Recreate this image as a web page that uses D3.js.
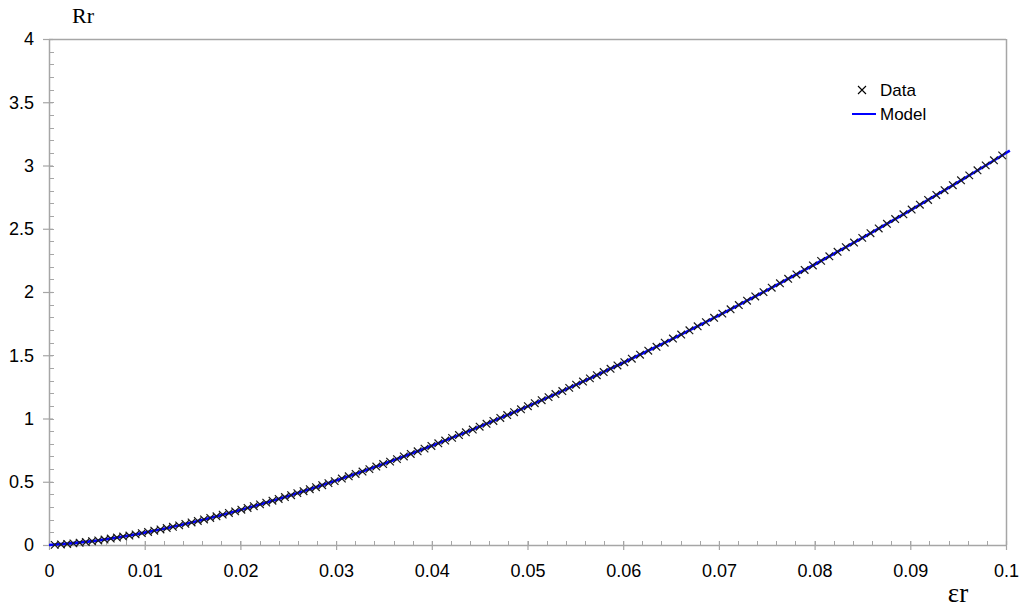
<!DOCTYPE html>
<html><head><meta charset="utf-8">
<script src="https://cdn.jsdelivr.net/npm/d3@7"></script>
<style>body{margin:0;background:#fff}svg{display:block}</style>
</head><body><svg id="c" width="1024" height="610"></svg>
<script>
const dataX = [
0.00060,0.00125,0.00190,0.00255,0.00320,0.00385,0.00450,0.00515,0.00580,0.00645,
0.00710,0.00775,0.00840,0.00905,0.00970,0.01035,0.01100,0.01165,0.01230,0.01295,
0.01360,0.01425,0.01490,0.01555,0.01620,0.01685,0.01750,0.01815,0.01880,0.01945,
0.02010,0.02075,0.02140,0.02205,0.02270,0.02335,0.02400,0.02465,0.02530,0.02595,
0.02660,0.02725,0.02790,0.02855,0.02920,0.02985,
0.03060,0.03132,0.03204,0.03276,0.03348,0.03420,0.03492,0.03564,0.03636,0.03708,
0.03780,0.03852,0.03924,0.03996,0.04068,0.04140,0.04212,0.04284,0.04356,0.04428,
0.04500,0.04572,0.04644,0.04716,0.04788,0.04860,0.04932,0.05004,0.05076,0.05148,
0.05220,0.05292,0.05364,0.05436,0.05508,0.05580,0.05652,0.05724,0.05796,0.05868,
0.05940,0.06012,
0.06090,0.06176,0.06262,0.06348,0.06434,0.06520,0.06606,0.06692,0.06778,0.06864,
0.06950,0.07036,0.07122,0.07208,0.07294,0.07380,0.07466,0.07552,0.07638,0.07724,
0.07810,0.07896,0.07982,0.08068,0.08154,0.08240,0.08326,0.08412,0.08498,0.08584,
0.08670,0.08756,0.08842,0.08928,0.09014,0.09100,0.09186,0.09272,0.09358,0.09444,
0.09530,0.09616,0.09702,0.09788,0.09874,0.09960];
const dataY = [
0.001,0.004,0.008,0.013,0.018,0.023,0.030,0.036,0.043,0.051,
0.059,0.067,0.075,0.084,0.094,0.103,0.113,0.123,0.134,0.144,
0.155,0.167,0.178,0.190,0.202,0.214,0.227,0.240,0.253,0.266,
0.279,0.293,0.307,0.321,0.335,0.350,0.364,0.379,0.394,0.410,
0.425,0.441,0.457,0.473,0.489,0.505,
0.525,0.543,0.562,0.581,0.600,0.620,0.640,0.659,0.679,0.700,
0.720,0.741,0.762,0.783,0.804,0.826,0.847,0.869,0.891,0.913,
0.935,0.958,0.981,1.004,1.027,1.050,1.073,1.097,1.121,1.145,
1.169,1.193,1.217,1.242,1.267,1.292,1.317,1.342,1.367,1.393,
1.419,1.445,
1.473,1.504,1.536,1.567,1.599,1.632,1.664,1.697,1.729,1.762,
1.796,1.829,1.863,1.897,1.931,1.965,1.999,2.034,2.069,2.104,
2.139,2.174,2.210,2.246,2.282,2.318,2.354,2.391,2.428,2.465,
2.502,2.539,2.577,2.614,2.652,2.690,2.728,2.767,2.805,2.844,
2.883,2.922,2.962,3.001,3.041,3.080];
const modelX = [0,0.005,0.01,0.015,0.02,0.025,0.03,0.035,0.04,0.045,0.05,0.055,0.06,0.065,0.07,0.075,0.08,0.085,0.09,0.095,0.1,0.1004];
const modelY = [0,0.0346,0.098,0.180,0.2772,0.3874,0.5092,0.6417,0.784,0.9355,1.0957,1.2641,1.4403,1.624,1.815,2.0129,2.2175,2.4286,2.646,2.8695,3.099,3.118];
const xTicks = [0,0.01,0.02,0.03,0.04,0.05,0.06,0.07,0.08,0.09,0.1];
const xTickLabels = ["0","0.01","0.02","0.03","0.04","0.05","0.06","0.07","0.08","0.09","0.1"];
const yTicks = [0,0.5,1,1.5,2,2.5,3,3.5,4];
const yTickLabels = ["0","0.5","1","1.5","2","2.5","3","3.5","4"];
const legendLabels = ["Data","Model"];

const svg = d3.select("#c");
const L=49,R=1006,T=39,B=545;
const x = d3.scaleLinear().domain([0,0.1]).range([L,R]);
const y = d3.scaleLinear().domain([0,4]).range([B,T]);
const grey="#a6a6a6";

svg.append("line").attr("x1",L).attr("x2",R).attr("y1",T+0.5).attr("y2",T+0.5).attr("stroke",grey).attr("stroke-width",1.5);
svg.append("line").attr("x1",R+0.5).attr("x2",R+0.5).attr("y1",T).attr("y2",B).attr("stroke",grey).attr("stroke-width",1.5);

const yMinor = d3.range(0,41).map(i=>i/10);
svg.append("g").selectAll("line").data(yMinor).join("line")
  .attr("x1",L).attr("x2",L+5).attr("y1",d=>Math.round(y(d))+0.5).attr("y2",d=>Math.round(y(d))+0.5)
  .attr("stroke",grey).attr("stroke-width",1);
const xMinor = d3.range(0,51).map(i=>i*0.002);
svg.append("g").selectAll("line").data(xMinor).join("line")
  .attr("x1",d=>Math.round(x(d))+0.5).attr("x2",d=>Math.round(x(d))+0.5).attr("y1",B).attr("y2",B-4)
  .attr("stroke",grey).attr("stroke-width",1);

const xAxis = d3.axisBottom(x).tickValues(xTicks).tickFormat((d,i)=>xTickLabels[i]).tickSizeInner(5).tickSizeOuter(0).tickPadding(14);
const gx = svg.append("g").attr("transform",`translate(0,${B})`).call(xAxis);
gx.select(".domain").attr("stroke",grey).attr("stroke-width",1.5);
gx.selectAll(".tick line").attr("stroke",grey).attr("stroke-width",1.2).attr("y1",-4).attr("y2",5);
gx.selectAll(".tick text").attr("font-family","Liberation Sans, Arial, sans-serif").attr("font-size",18).attr("fill","#000");

const yAxis = d3.axisLeft(y).tickValues(yTicks).tickFormat((d,i)=>yTickLabels[i]).tickSizeInner(6).tickSizeOuter(0).tickPadding(9);
const gy = svg.append("g").attr("transform",`translate(${L},0)`).call(yAxis);
gy.select(".domain").attr("stroke",grey).attr("stroke-width",1.5);
gy.selectAll(".tick line").attr("stroke",grey).attr("stroke-width",1.2).attr("x1",4).attr("x2",-6);
gy.selectAll(".tick text").attr("font-family","Liberation Sans, Arial, sans-serif").attr("font-size",18).attr("fill","#000");

const pts = modelX.map((v,i)=>[v,modelY[i]]);
svg.append("path").datum(pts)
  .attr("d",d3.line().x(d=>x(d[0])).y(d=>y(d[1])).curve(d3.curveMonotoneX))
  .attr("fill","none").attr("stroke","#0000ff").attr("stroke-width",2.6);

const s=3.8;
const dpts = dataX.map((v,i)=>[v,dataY[i]]);
svg.append("g").selectAll("path").data(dpts).join("path")
  .attr("d",d=>{const cx=x(d[0]),cy=y(d[1]);return `M${cx-s},${cy-s}L${cx+s},${cy+s}M${cx-s},${cy+s}L${cx+s},${cy-s}`;})
  .attr("stroke","#1a1a1a").attr("stroke-width",1.2).attr("fill","none");

svg.append("text").attr("x",83).attr("y",23).attr("text-anchor","middle")
  .attr("font-family","Liberation Serif, Times New Roman, serif").attr("font-size",22).text("Rr");
svg.append("text").attr("x",958).attr("y",602).attr("text-anchor","middle")
  .attr("font-family","Liberation Serif, Times New Roman, serif").attr("font-size",27).text("εr");

const lg = svg.append("g");
const lx=862, ly1=90, ly2=114;
lg.append("path").attr("d",`M${lx-4},${ly1-4}L${lx+4},${ly1+4}M${lx-4},${ly1+4}L${lx+4},${ly1-4}`).attr("stroke","#000").attr("stroke-width",1.1);
lg.append("line").attr("x1",852).attr("x2",876).attr("y1",ly2).attr("y2",ly2).attr("stroke","#0000ff").attr("stroke-width",2);
lg.selectAll("text").data(legendLabels).join("text")
  .attr("x",880).attr("y",(d,i)=>i?ly2+6:ly1+6)
  .attr("font-family","Liberation Sans, Arial, sans-serif").attr("font-size",17).text(d=>d);
</script></body></html>
